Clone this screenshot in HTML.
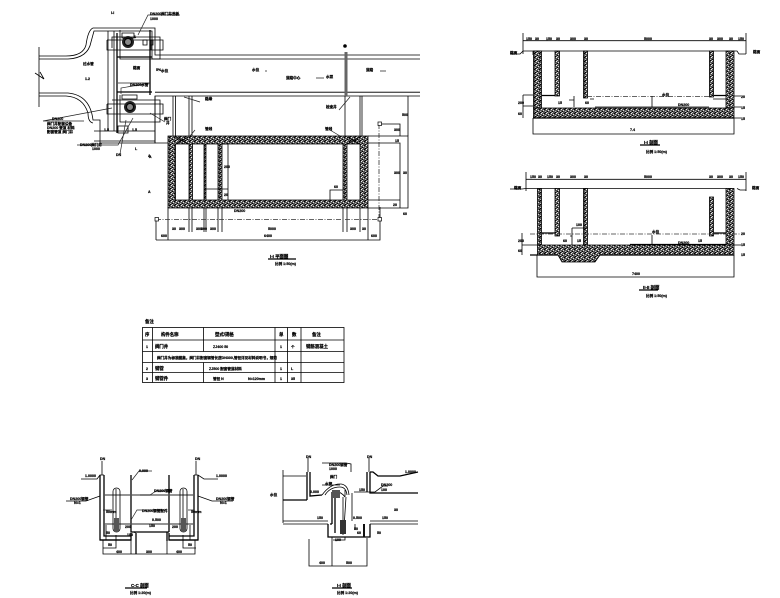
<!DOCTYPE html>
<html><head><meta charset="utf-8"><style>
html,body{margin:0;padding:0;background:#fff}
svg{display:block}
text{font-family:"Liberation Sans","Noto Sans CJK SC",sans-serif;font-size:3.6px;font-weight:bold;fill:#000;stroke:#000;stroke-width:.22}
.t{font-size:4.4px}
.l{fill:none;stroke:#000;stroke-width:.8}
.b{fill:none;stroke:#000;stroke-width:1.3}
.g{fill:none;stroke:#555;stroke-width:1.3}
.d{fill:none;stroke:#222;stroke-width:.7}
.w{fill:url(#h);stroke:#000;stroke-width:.8}
.da{fill:none;stroke:#333;stroke-width:.8;stroke-dasharray:5 1.5 1 1.5}
</style></head><body>
<svg xmlns="http://www.w3.org/2000/svg" width="780" height="598" viewBox="0 0 780 598">
<defs><pattern id="h" width="5" height="4" patternUnits="userSpaceOnUse">
<rect width="5" height="4" fill="#555"/>
<rect x="0" y="0" width="1" height="1" fill="#000"/><rect x="2" y="0" width="1" height="1" fill="#ccc"/><rect x="4" y="1" width="1" height="1" fill="#000"/>
<rect x="1" y="1" width="1" height="1" fill="#eee"/><rect x="3" y="2" width="1" height="1" fill="#ddd"/><rect x="0" y="3" width="1" height="1" fill="#bbb"/><rect x="2" y="3" width="1" height="1" fill="#000"/>
</pattern></defs>
<rect width="780" height="598" fill="#fff"/>

<!-- plan: road and left channel -->
<path class="l" d="M39 47V107M39 56H66Q83 56 86 45Q88 30 93 28H155V55H420M39 59H68Q88 58 91 42L94 31H152V59H420"/>
<path class="l" d="M39 93H68Q90 95 93 120H100V143H155V96H420M39 96H66Q83 97 88 113Q88 122 93 123"/>
<path class="g" d="M155 92.3H420"/>
<path class="l" d="M35 73L44 79L40 72M108 31V131M114 31V131"/>
<path class="b" d="M117 33V133M150 30V95M117 57H152M117 92H152"/>
<path class="l" d="M120 30V59H160V37H112V48M107 40H163V50H107V40M151 40V50"/>
<path class="l" d="M120 95V122H160V100H112M107 104H163V114H107V104M155 96V143H176M94 131H155M94 141H155M118 126H128V133H118Z"/>
<circle cx="128" cy="42" r="6" fill="#222"/><circle cx="128" cy="42" r="3.5" fill="#888" stroke="#000"/>
<circle cx="130" cy="107" r="6" fill="#222"/><circle cx="130" cy="107" r="3.5" fill="#888" stroke="#000"/>
<path class="l" d="M122 38H134V33H122ZM122 99H137V95H122ZM150 45H153V40H150ZM143 45H147V40H143Z"/>
<path class="d" d="M138 35L148 15H180M133 118L118 145H77M126 120L120 154M118 83H150L121 88V94M112 108L43 121H84M150 113L165 122"/>
<!-- plan: upper lines -->
<path class="l" d="M173 96V136M175.500 96V136M189 96V136M192 96V136M345 96V136M360 96V136M362 96V136M408 96V136"/>
<path style="fill:none;stroke:#666;stroke-width:3" d="M346 52V96"/>
<circle cx="345" cy="46" r="1.800" fill="#000"/>
<path class="d" d="M184 97L200 102M339 110L350 97M195 130L190 136M330 130L340 136M316 78H324M265 71H267M386 71H380"/>
<!-- plan: tank -->
<path class="w" fill-rule="evenodd" d="M168 136H368V208H168ZM175.500 144V200H189V144ZM192.500 144V200H204V144ZM206 144V200H218V144ZM222 144V200H343V144ZM347 144V200H360V144Z"/>
<path class="l" d="M176 137L188 144M188 137L176 144M347 137L360 144M360 137L347 144M222 144H228V200M205 189H228V200"/>
<path class="l" d="M330 200V190H343M368 136H408V208H368M368 143H400V208M368 200H400M368 208V240"/>
<path class="l" d="M379 124H400V136M168 207V240H380V207M156 220V240M168 240H156M189 208V232M192 208V232M204 208V232M206 208V232M218 208V232M222 208V232M343 208V232M347 208V232M360 208V232"/>
<path class="da" d="M156 219.500H379M379 124V219"/>
<rect x="155" y="217.500" width="3.500" height="3.500" fill="#fff" stroke="#000" stroke-width=".7"/>
<rect x="378" y="217.500" width="3.500" height="3.500" fill="#fff" stroke="#000" stroke-width=".7"/>
<rect x="378" y="122" width="3.500" height="3.500" fill="#fff" stroke="#000" stroke-width=".7"/>
<text x="201" y="230">300</text><text x="268" y="230">5000</text><text x="172" y="230">30</text><text x="179" y="230">300</text><text x="196" y="230">300</text><text x="210" y="230">300</text><text x="350" y="230">300</text><text x="362" y="230">30</text>
<text x="161" y="237">600</text><text x="264" y="237">6400</text><text x="371" y="237">600</text>
<text x="402" y="116">500</text><text x="394" y="131">300</text><text x="395" y="142">15</text><text x="394" y="174">300</text><text x="403" y="174">30</text><text x="393" y="206">20</text><text x="403" y="215">60</text>
<text x="148" y="157">A</text><text x="148" y="193">A</text><text x="224" y="168">200</text><text x="224" y="196">20</text><text x="334" y="188">60</text><text x="234" y="212">DN200</text>
<text x="252" y="71">水位</text><text x="286" y="79">道路中心</text><text x="326" y="78">水泵</text><text x="366" y="71">道路</text><text x="161" y="72">水位</text>
<text x="326" y="108">检查井</text><text x="205" y="100">路缘</text><text x="205" y="130">管线</text><text x="325" y="130">管线</text>
<text x="85" y="80">1.2</text><text x="83" y="65">过水管</text><text x="133" y="69">路面</text><text x="156" y="71">5%</text><text x="130" y="86">DN200水管</text>
<text x="111" y="14">I-I</text><text x="150" y="15">DN200阀门井盖板</text><text x="150" y="20">1000</text><text x="52" y="120">DN200</text><text x="47" y="125">阀门井配套设备</text><text x="47" y="129">DN200 管道 材料</text><text x="47" y="133">配套管道 阀门井</text>
<text x="80" y="146">DN200阀门井</text><text x="92" y="150">1000</text><text x="116" y="156">DN</text><text x="135" y="150">L</text><text x="149" y="158">A</text><text x="164" y="120">阀门</text><text x="166" y="124">井</text>
<text x="104" y="131">1.5</text><text x="132" y="131">1.5</text><text x="134" y="38">1</text>
<path class="b" d="M268 259H296"/><text class="t" x="270" y="258">I-I 平面图</text><text x="275" y="265">比例 1:50(m)</text>

<!-- section 1 -->
<path class="l" d="M523 33V54M746 33V54M523 40.700H746M510 54H520L523 51H533V55M746 54H739L737 51H734M533 51H737"/>
<path class="w" d="M533.500 51H541.500V108H533.500ZM726 51H734V108H726ZM555 51H559.500V96H555ZM583.500 51H587.500V98H583.500ZM709.500 51H713.500V97H709.500Z"/>
<path class="w" d="M533.500 108H734V118H533.500Z"/>
<path class="b" d="M533 118H734M542 95.500H555M714 95.500H726"/>
<path class="da" d="M587 96.500H709"/>
<path class="l" d="M523 95V118M523 95H533M523 106H533M533 118V134H734V118M734 96H741M734 107H741M734 118H741M652 96V107M713 99H726M574 96V107M590 99H594M595 107H709M569 100H574V107"/>
<text x="526" y="40">150</text><text x="535" y="40">30</text><text x="546" y="40">150</text><text x="556" y="40">30</text><text x="570" y="40">300</text><text x="584" y="40">30</text><text x="644" y="40">5000</text><text x="709" y="40">30</text><text x="717" y="40">300</text><text x="729" y="40">30</text><text x="738" y="40">150</text>
<text x="510" y="54">路面</text><text x="753" y="53">路面</text><text x="662" y="96">水位</text><text x="518" y="104">200</text><text x="518" y="115">60</text><text x="741" y="98">20</text><text x="741" y="109">15</text><text x="741" y="120">15</text><text x="630" y="131">7.4</text><text x="678" y="106">DN200</text><text x="558" y="104">15</text><text x="585" y="104">60</text>
<path class="b" d="M640 145H660"/><text class="t" x="644" y="144">I-I 剖面</text><text x="646" y="153">比例 1:50(m)</text>

<!-- section 2 -->
<path class="l" d="M526 172V191M746 172V191M526 179.300H746M510 189H522L526 188.500H537M746 190H740L737 188.500M537 188.500H734"/>
<path class="w" d="M537.500 188.500H541.500V245H537.500ZM726 188.500H734V245H726ZM555 188.500H559.500V236H555ZM583.500 188.500H587.500V245H583.500ZM709.500 197H713.500V236H709.500Z"/>
<path class="w" d="M537.500 245H734V255H600L595 262H562L558 255H537.500Z"/>
<path class="b" d="M530 255H558M600 255H734M542 233H555M714 233H726M630 244.500H726"/>
<path class="da" d="M530 234H709M714 234H741"/>
<path class="l" d="M522 233V255M522 245H537M537 255V277H734V255M734 245H741M572 228V245M572 228H588M570 236H572M652 235V244"/>
<text x="530" y="178">150</text><text x="538" y="178">30</text><text x="547" y="178">150</text><text x="556" y="178">30</text><text x="570" y="178">300</text><text x="584" y="178">30</text><text x="644" y="178">5000</text><text x="709" y="178">30</text><text x="717" y="178">300</text><text x="729" y="178">30</text><text x="738" y="178">150</text>
<text x="514" y="189">路面</text><text x="752" y="189">路面</text><text x="652" y="233">水位</text><text x="518" y="242">200</text><text x="518" y="252">60</text><text x="741" y="235">20</text><text x="741" y="246">15</text><text x="741" y="256">15</text><text x="632" y="275">7400</text><text x="576" y="226">100</text><text x="563" y="242">60</text><text x="577" y="242">15</text><text x="698" y="242">15</text><text x="678" y="244">DN200</text>
<path class="b" d="M639 290H658"/><text class="t" x="643" y="289">II-II 剖面</text><text x="646" y="297">比例 1:50(m)</text>

<!-- table -->
<text class="t" x="145" y="323">备注</text>
<rect x="142.500" y="327.500" width="201.500" height="55" fill="none" stroke="#000" stroke-width=".8"/>
<path class="l" d="M142.500 340H344M142.500 351.500H344M142.500 362.500H344M142.500 372.500H344M152.500 327.500V382.500M203.500 327.500V340M203.500 362.500V382.500M203.500 340V351.500M275 327.500V382.500M287.500 327.500V382.500M301 327.500V382.500"/>
<text class="t" x="145" y="336">序</text><text class="t" x="161" y="336">构件名称</text><text class="t" x="215" y="336">型式/规格</text><text class="t" x="279" y="336">单</text><text class="t" x="292" y="336">数</text><text class="t" x="312" y="336">备注</text>
<text x="146" y="348">1</text><text class="t" x="155" y="348">阀门井</text><text x="213" y="348">ZJ400 50</text><text x="280" y="348">1</text><text x="291" y="348">个</text><text class="t" x="306" y="348">钢筋混凝土</text>
<text x="157" y="359">阀门井为标准图集，阀门井配套钢管长度DN300,管径详见材料说明书，规范</text>
<text x="146" y="370">2</text><text class="t" x="155" y="370">钢管</text><text x="209" y="370">ZJ500 配套管道材料</text><text x="280" y="370">1</text><text x="291" y="370">L</text>
<text x="146" y="380">3</text><text class="t" x="155" y="380">钢管件</text><text x="213" y="380">管径 N</text><text x="248" y="380">N=120mm</text><text x="280" y="380">1</text><text x="291" y="380">35</text>

<!-- C-C section -->
<path class="l" d="M102 461V475M196 461V475M81 479H97L100 475H104M218 479H204L198 475H194M66 501H86L100 496M233 501H212L198 496"/>
<path class="b" d="M100 475V540H131V533M104 475V536H131M198 475V540H169V533M194 475V536H169M131 475V532H135V532M169 475V532"/>
<path class="g" d="M104 495H194M104 524H194"/>
<path class="b" d="M135 533V532H167V541M135 532H169M136 533V554M100 540H131M169 540H198"/>
<rect x="113" y="488" width="7" height="44" rx="3.500" class="l"/><rect x="180" y="488" width="7" height="44" rx="3.500" class="l"/>
<path class="l" d="M116 489V532M183 489V532M103 540V554H195V540M131 540V554M167 540V554M116 535V548H103M183 535V548H196M106 525V540M190 525V540"/>
<rect x="114" y="518" width="5" height="14" fill="#555"/><rect x="181" y="518" width="5" height="14" fill="#555"/>
<path class="d" d="M131 520L137 510H162M132 480L139 471H152M140 495H150L156 491H165M103 510H112M188 510H194"/>
<text x="100" y="460">DN</text><text x="195" y="460">DN</text><text x="85" y="477">1.0000</text><text x="216" y="477">1.0000</text><text x="70" y="500">DN200钢管</text><text x="74" y="504">N=1</text><text x="216" y="500">DN200钢管</text><text x="220" y="504">N=1</text><text x="139" y="472">0.000</text><text x="154" y="492">DN200钢管</text><text x="142" y="512">DN200钢管配件</text><text x="152" y="521">0.500</text><text x="149" y="527">150</text><text x="125" y="528">200</text><text x="172" y="528">200</text><text x="106" y="513">50mm</text><text x="191" y="513">50mm</text><text x="108" y="546">50</text><text x="188" y="546">50</text><text x="116" y="553">400</text><text x="146" y="553">300</text><text x="176" y="553">400</text><text x="106" y="534">50</text><text x="127" y="536">100</text>
<path class="b" d="M125 588H147"/><text class="t" x="131" y="587">C-C 剖面</text><text x="130" y="594">比例 1:20(m)</text>

<!-- D-D section -->
<path class="l" d="M283 470V523M283 476H306M283 524H328M370 524H418M283 521H328M370 521H418"/>
<path class="b" d="M307 472V500M310 472V496L322 495M367 472V492M370 472V493H418M370 472H373L378 476H400L418 472M283 500H307"/>
<path class="l" d="M308 458V472M369 458V472M352 493V521M309 539V566H367V538M332 537V566M333 540H345V537"/>
<path class="b" d="M328 524V537H370V524M332 492V524M335 495V533M330 524H332"/>
<path class="l" d="M322 495Q330 484 340 484Q348 484 349 495M325 495Q330 487 340 487Q346 487 347 495M332 492Q340 490 345 497M345 490V497M343 497V535M346 497L344 528M351 472V464L346 463L342 463H322M322 485H340M354 492H375L383 486H388M355 524V530"/>
<rect x="340" y="520" width="6" height="14" fill="#333"/><rect x="332" y="490" width="8" height="8" fill="#555"/>
<rect x="363" y="524" width="2" height="13" fill="#111"/>
<text x="306" y="458">DN</text><text x="367" y="458">DN</text><text x="329" y="466">DN200钢管</text><text x="329" y="470">1000</text><text x="330" y="478">阀门</text><text x="325" y="485">水管</text><text x="310" y="493">0.000</text><text x="359" y="491">150</text><text x="381" y="486">DN200</text><text x="381" y="491">100</text><text x="405" y="473">1.0000</text><text x="394" y="511">30</text><text x="317" y="519">150</text><text x="353" y="519">0.500</text><text x="382" y="519">150</text><text x="354" y="530">50</text><text x="357" y="534">60</text><text x="377" y="534">50</text><text x="335" y="541">100</text><text x="319" y="564">400</text><text x="346" y="564">500</text><text x="270" y="496">水位</text>
<path class="b" d="M332 588H352"/><text class="t" x="337" y="587">I-I 剖面</text><text x="337" y="594">比例 1:20(m)</text>
</svg>
</body></html>
